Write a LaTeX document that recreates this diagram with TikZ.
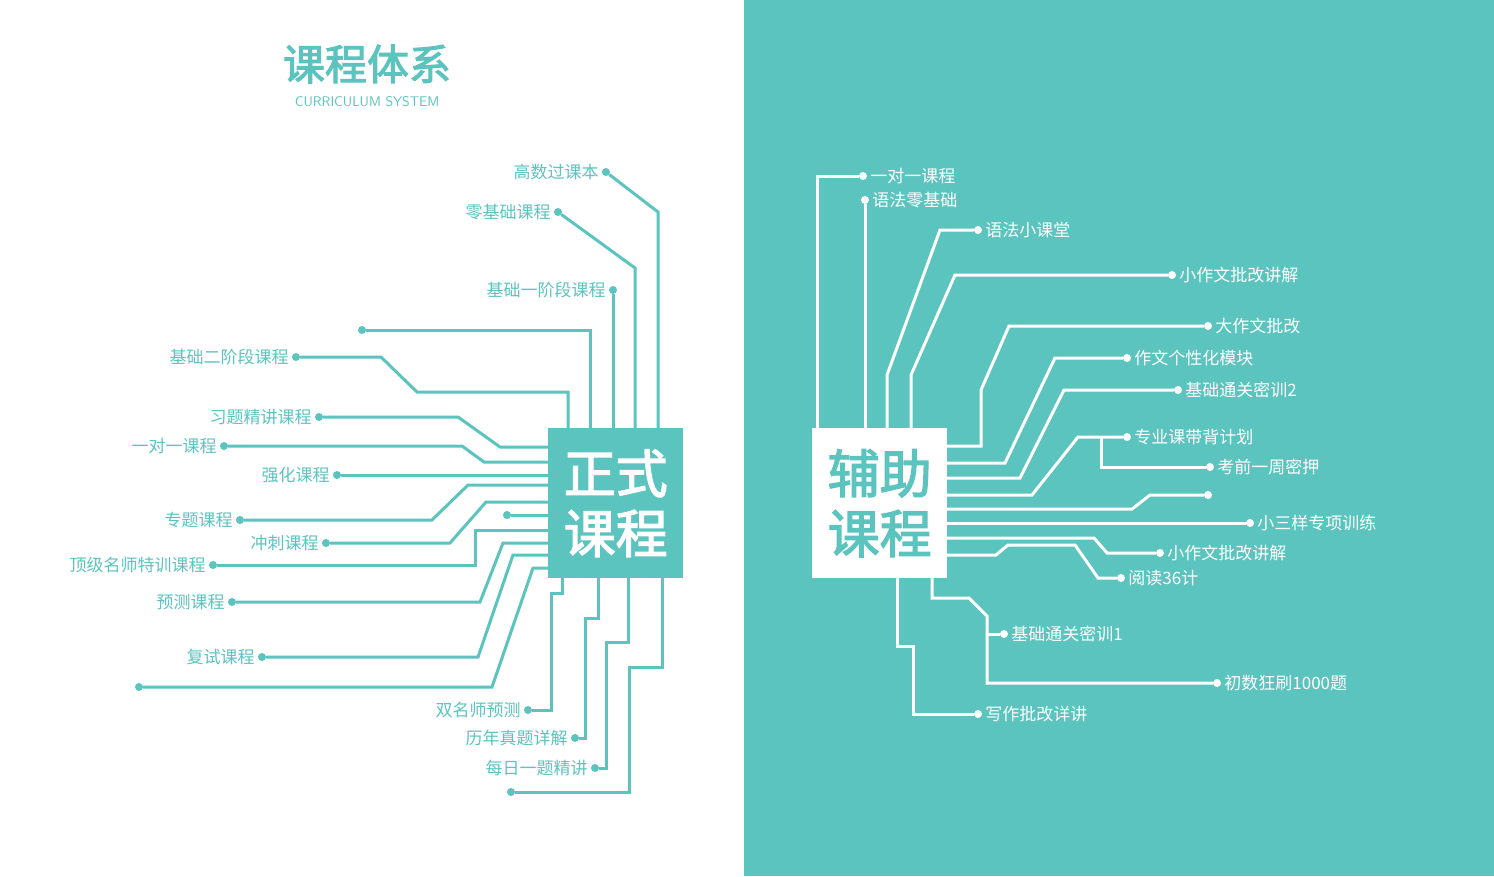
\documentclass[tikz,border=0pt]{standalone}
\usepackage{fontspec}
\usepackage{xcolor}
\usetikzlibrary{positioning}
\newfontfamily\cjk{Noto Sans CJK SC}
\newfontfamily\cjkheavy[FakeBold=2.5]{Noto Sans CJK SC}
\definecolor{mint}{HTML}{5BC4BF}
\tikzset{
  wireL/.style={mint, line width=3pt},
  wireR/.style={white, line width=3pt},
  dotL/.style={circle, fill=mint, inner sep=0pt, minimum size=8pt},
  dotR/.style={circle, fill=white, inner sep=0pt, minimum size=8pt},
  labL/.style={text=mint, font=\cjk\fontsize{17}{17}\selectfont, inner sep=3pt},
  labR/.style={text=white, font=\cjk\fontsize{17}{17}\selectfont, inner sep=3pt},
}
\begin{document}
\begin{tikzpicture}[x=1pt, y=-1pt]
    \useasboundingbox (0,0) rectangle (1494,876);
    % Backgrounds
    \fill[white] (0,0) rectangle (744,876);
    \fill[mint] (744,0) rectangle (1494,876);

    % Title
    \node[text=mint, font=\cjkheavy\fontsize{42}{42}\selectfont] (title) at (367,64) {课程体系};
    \node[text=mint, font=\sffamily\fontsize{14}{14}\selectfont, below=6pt of title] (subtitle) {CURRICULUM SYSTEM};

    % Main boxes
    \node[fill=mint, minimum width=135pt, minimum height=150pt, inner sep=0pt, anchor=north west] (formal) at (548,428) {};
    \node[text=white, font=\cjkheavy\fontsize{52}{60}\selectfont, align=center] at (formal.center) {正式\\课程};
    \node[fill=white, minimum width=135pt, minimum height=150pt, inner sep=0pt, anchor=north west] (extra) at (812,428) {};
    \node[text=mint, font=\cjkheavy\fontsize{52}{60}\selectfont, align=center] at (extra.center) {辅助\\课程};

    % Left: dots with labels
    \node[dotL, label={[labL]left:高数过课本}] (l1) at (606,172) {};
    \node[dotL, label={[labL]left:零基础课程}] (l2) at (558,212) {};
    \node[dotL, label={[labL]left:基础一阶段课程}] (l3) at (613,290) {};
    \node[dotL] (l4) at (362,330) {};
    \node[dotL, label={[labL]left:基础二阶段课程}] (l5) at (296,357) {};
    \node[dotL, label={[labL]left:习题精讲课程}] (l6) at (319,417) {};
    \node[dotL, label={[labL]left:一对一课程}] (l7) at (224,446) {};
    \node[dotL, label={[labL]left:强化课程}] (l8) at (337,475) {};
    \node[dotL, label={[labL]left:专题课程}] (l9) at (240,520) {};
    \node[dotL, label={[labL]left:冲刺课程}] (l10) at (326,543) {};
    \node[dotL] (l11) at (507,515) {};
    \node[dotL, label={[labL]left:顶级名师特训课程}] (l12) at (213,565) {};
    \node[dotL, label={[labL]left:预测课程}] (l13) at (232,602) {};
    \node[dotL, label={[labL]left:复试课程}] (l14) at (262,657) {};
    \node[dotL] (l15) at (139,687) {};
    \node[dotL, label={[labL]left:双名师预测}] (l16) at (528,710) {};
    \node[dotL, label={[labL]left:历年真题详解}] (l17) at (575,738) {};
    \node[dotL, label={[labL]left:每日一题精讲}] (l18) at (595,768) {};
    \node[dotL] (l19) at (511,792) {};

    % Left wires
    \draw[wireL] (658,428) -- (658,212) -- (l1);
    \draw[wireL] (635,428) -- (635,268) -- (l2);
    \draw[wireL] (613,428) -- (l3);
    \draw[wireL] (590,428) -- (590,330) -- (l4);
    \draw[wireL] (568,428) -- (568,392) -- (417,392) -- (381,357) -- (l5);
    \draw[wireL] (548,447) -- (500,447) -- (458,417) -- (l6);
    \draw[wireL] (548,462) -- (484,462) -- (462,446) -- (l7);
    \draw[wireL] (548,475) -- (l8);
    \draw[wireL] (548,485) -- (468,485) -- (432,520) -- (l9);
    \draw[wireL] (548,502) -- (486,502) -- (450,543) -- (l10);
    \draw[wireL] (548,515) -- (l11);
    \draw[wireL] (548,530) -- (475,530) -- (475,565) -- (l12);
    \draw[wireL] (548,543) -- (503,543) -- (480,602) -- (l13);
    \draw[wireL] (548,555) -- (513,555) -- (478,657) -- (l14);
    \draw[wireL] (548,568) -- (533,568) -- (492,687) -- (l15);
    \draw[wireL] (562,578) -- (562,593) -- (551,593) -- (551,710) -- (l16);
    \draw[wireL] (598,578) -- (598,618) -- (585,618) -- (585,738) -- (l17);
    \draw[wireL] (628,578) -- (628,642) -- (606,642) -- (606,768) -- (l18);
    \draw[wireL] (662,578) -- (662,667) -- (629,667) -- (629,792) -- (l19);

    % Right: dots with labels
    \node[dotR, label={[labR]right:一对一课程}] (r1) at (863,176) {};
    \node[dotR, label={[labR]right:语法零基础}] (r2) at (865,200) {};
    \node[dotR, label={[labR]right:语法小课堂}] (r3) at (978,230) {};
    \node[dotR, label={[labR]right:小作文批改讲解}] (r4) at (1172,275) {};
    \node[dotR, label={[labR]right:大作文批改}] (r5) at (1208,326) {};
    \node[dotR, label={[labR]right:作文个性化模块}] (r6) at (1127,358) {};
    \node[dotR, label={[labR]right:基础通关密训2}] (r7) at (1178,390) {};
    \node[dotR, label={[labR]right:专业课带背计划}] (r8) at (1127,437) {};
    \node[dotR, label={[labR]right:考前一周密押}] (r9) at (1210,467) {};
    \node[dotR] (r10) at (1208,495) {};
    \node[dotR, label={[labR]right:小三样专项训练}] (r11) at (1250,523) {};
    \node[dotR, label={[labR]right:小作文批改讲解}] (r12) at (1160,553) {};
    \node[dotR, label={[labR]right:阅读36计}] (r13) at (1121,578) {};
    \node[dotR, label={[labR]right:基础通关密训1}] (r14) at (1004,634) {};
    \node[dotR, label={[labR]right:初数狂刷1000题}] (r15) at (1217,683) {};
    \node[dotR, label={[labR]right:写作批改详讲}] (r16) at (978,714) {};

    % Right wires
    \draw[wireR] (817,428) -- (817,176) -- (r1);
    \draw[wireR] (865,428) -- (r2);
    \draw[wireR] (887,428) -- (887,375) -- (940,230) -- (r3);
    \draw[wireR] (911,428) -- (911,375) -- (955,275) -- (r4);
    \draw[wireR] (947,446) -- (981,446) -- (981,390) -- (1009,326) -- (r5);
    \draw[wireR] (947,463) -- (1005,463) -- (1055,358) -- (r6);
    \draw[wireR] (947,478) -- (1020,478) -- (1064,390) -- (r7);
    \draw[wireR] (947,495) -- (1032,495) -- (1078,437) -- (r8);
    \draw[wireR] (1101,437) -- (1101,467) -- (r9);
    \draw[wireR] (947,509) -- (1132,509) -- (1150,495) -- (r10);
    \draw[wireR] (947,523) -- (r11);
    \draw[wireR] (947,538) -- (1094,538) -- (1107,553) -- (r12);
    \draw[wireR] (947,555) -- (996,555) -- (1008,545) -- (1075,545) -- (1098,578) -- (r13);
    \draw[wireR] (932,578) -- (932,598) -- (969,598) -- (987,616) -- (987,683) -- (r15);
    \draw[wireR] (987,634) -- (r14);
    \draw[wireR] (897,578) -- (897,646) -- (913,646) -- (913,714) -- (r16);
\end{tikzpicture}
\end{document}
